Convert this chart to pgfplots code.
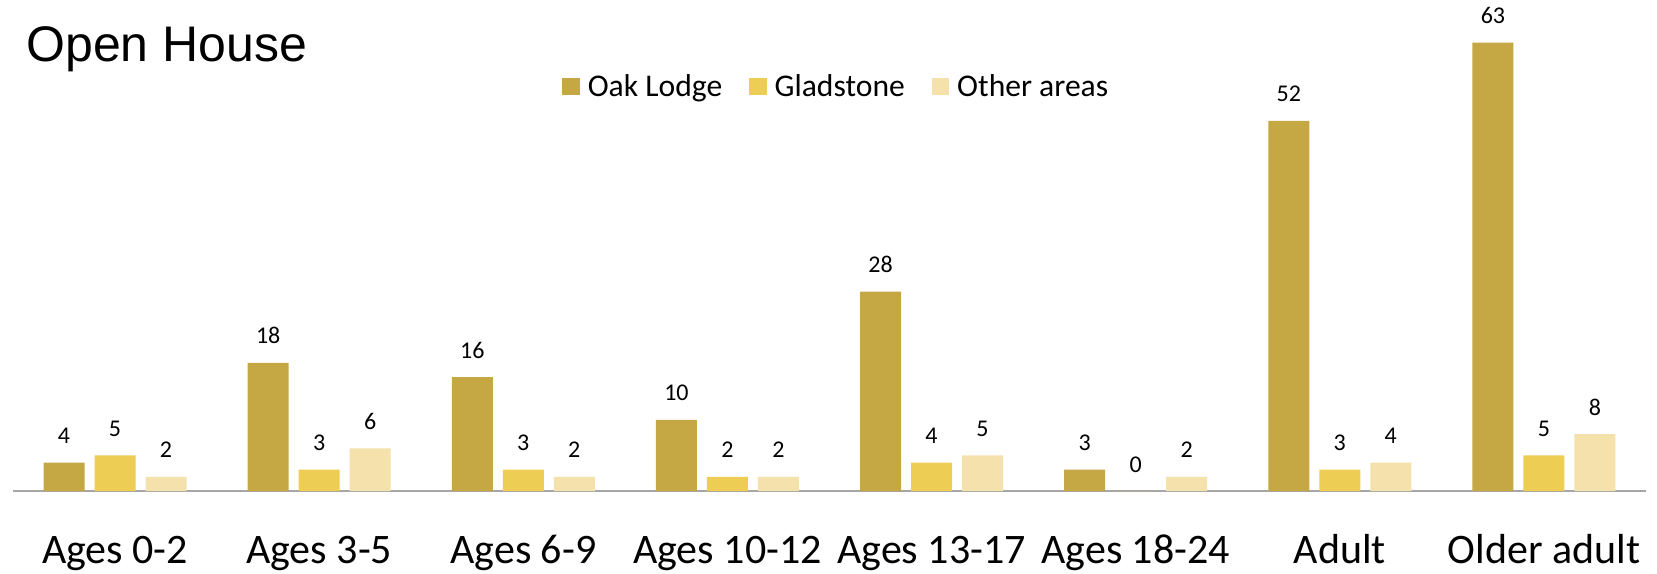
\documentclass[border=0pt]{standalone}
\usepackage{pgfplots}
\pgfplotsset{compat=1.18}
\usepackage{fontspec}
\setmainfont{Carlito}
\newfontfamily\titlefont{Liberation Sans}
\definecolor{oak}{RGB}{197,168,67}
\definecolor{glad}{RGB}{238,205,85}
\definecolor{other}{RGB}{245,225,171}
\definecolor{axisgray}{RGB}{166,166,166}
\begin{document}
\begin{tikzpicture}
\useasboundingbox (0,0) rectangle (828.5pt,286.5pt);
\node[anchor=base west, inner sep=0pt, font=\titlefont\fontsize{25pt}{30pt}\selectfont] at (13pt,255.5pt) {Open House};
\begin{axis}[
  at={(6.5pt,41pt)}, anchor=south west,
  scale only axis, width=816.5pt, height=242pt,
  xmin=-0.5, xmax=7.5, ymin=0, ymax=68,
  enlargelimits=false, clip=false,
  axis x line*=bottom, axis y line=none,
  x axis line style={draw=axisgray, line width=0.8pt},
  xtick=data,
  xticklabels={Ages 0-2, Ages 3-5, Ages 6-9, Ages 10-12, Ages 13-17, Ages 18-24, Adult, Older adult},
  xtick style={draw=none},
  xticklabel style={anchor=base, inner sep=0pt, yshift=-32pt, font=\fontsize{21pt}{25pt}\selectfont},
  ybar=5pt, bar width=20.5pt,
  /pgf/number format/assume math mode=true,
  nodes near coords,
  every node near coord/.append style={anchor=base, yshift=9.5pt, font=\fontsize{12pt}{14pt}\selectfont, text=black},
  legend columns=3,
  legend style={at={(0.506,0.835)}, anchor=center, draw=none, fill=none,
    font=\fontsize{15.8pt}{19pt}\selectfont,
    nodes={inner xsep=4pt},
    /tikz/every even column/.append style={column sep=9.5pt}},
  legend image code/.code={\fill[#1,draw=none] (0pt,-4.3pt) rectangle (8.7pt,4.4pt);},
]
\addplot[fill=oak, draw=none] coordinates {(0,4) (1,18) (2,16) (3,10) (4,28) (5,3) (6,52) (7,63)};
\addplot[fill=glad, draw=none] coordinates {(0,5) (1,3) (2,3) (3,2) (4,4) (5,0) (6,3) (7,5)};
\addplot[fill=other, draw=none] coordinates {(0,2) (1,6) (2,2) (3,2) (4,5) (5,2) (6,4) (7,8)};
\legend{Oak Lodge, Gladstone, Other areas}
\end{axis}
\end{tikzpicture}
\end{document}
